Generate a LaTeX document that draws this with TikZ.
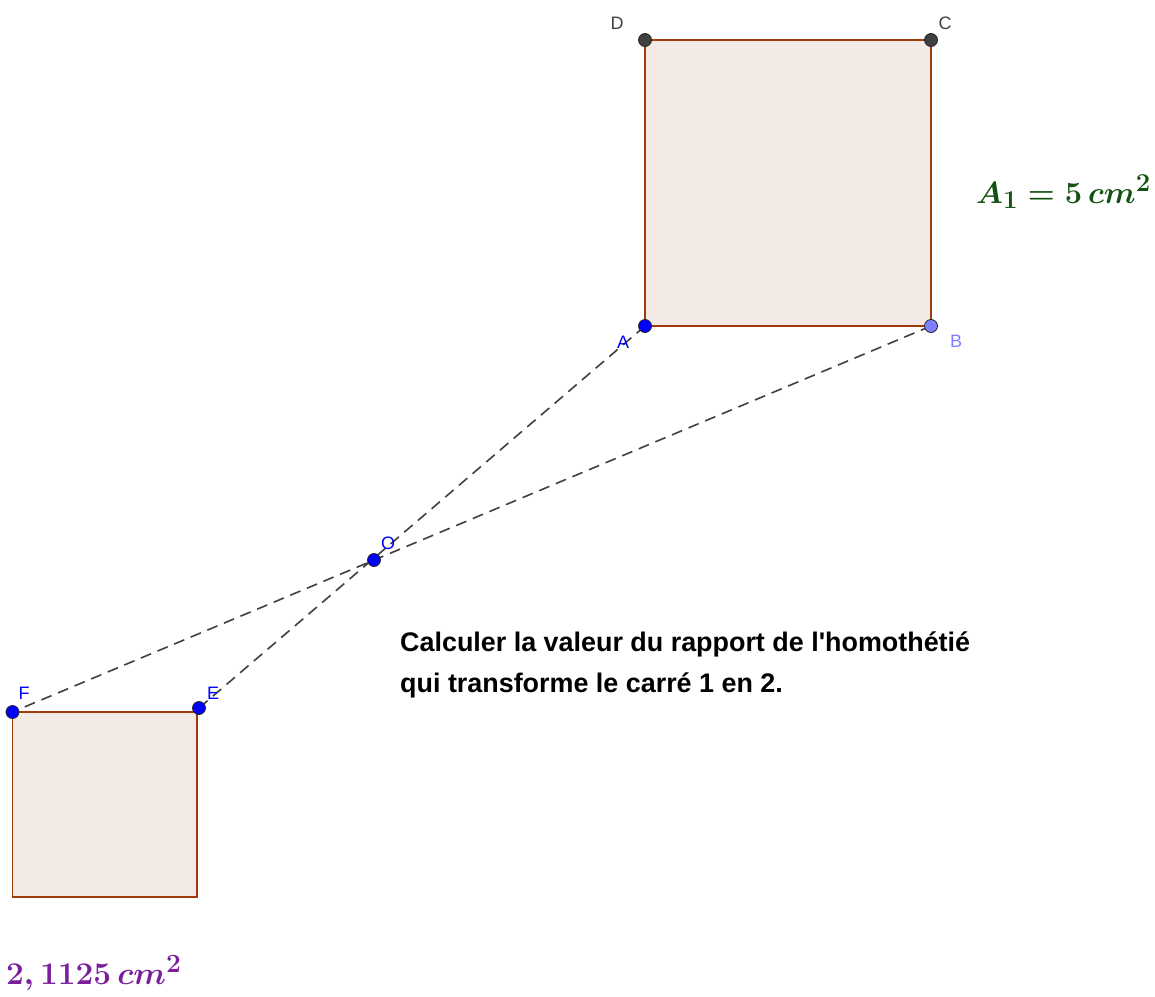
\documentclass[tikz,border=0pt]{standalone}
\usepackage{fontspec}
\newfontfamily\labfont{Liberation Sans}
\definecolor{polyline}{RGB}{160,60,10}
\definecolor{polyfill}{RGB}{244,234,229}
\definecolor{dashgray}{RGB}{64,64,64}
\definecolor{ptblue}{RGB}{0,0,255}
\definecolor{ptlight}{RGB}{127,127,255}
\definecolor{ptdark}{RGB}{64,64,64}
\definecolor{areagreen}{RGB}{18,82,18}
\definecolor{areapurple}{RGB}{122,30,158}
\begin{document}
\begin{tikzpicture}[x=1pt,y=-1pt,
  poly/.style={draw=polyline,fill=polyfill,line width=1.6pt,line join=miter},
  dashline/.style={draw=dashgray,line width=1.6pt,dash pattern=on 11pt off 7pt},
  dot/.style={circle,draw=black!85,line width=0.8pt,minimum size=13pt,inner sep=0pt},
  lab/.style={font=\labfont\fontsize{18}{21}\selectfont,inner sep=0pt},
  question/.style={font=\labfont\bfseries\fontsize{26.9}{32}\selectfont,anchor=base west,inner sep=0pt},
  area/.style={font=\fontsize{24.88}{30}\selectfont\boldmath,anchor=base west,inner sep=0pt}]
\useasboundingbox (0,0) rectangle (1155,996);
% coordinates
\coordinate (A) at (645,326);
\coordinate (B) at (931,326);
\coordinate (C) at (931,40);
\coordinate (D) at (645,40);
\coordinate (O) at (374,560);
\coordinate (E) at (199,708);
\coordinate (F) at (12.5,712);
\coordinate (S2) at (197,712);
\coordinate (S3) at (197,897);
\coordinate (S4) at (12.5,897);
% squares
\draw[poly] (A) -- (B) -- (C) -- (D) -- cycle;
\draw[poly] (F) -- (S2) -- (S3) -- (S4) -- cycle;
% dashed lines
\draw[dashline] (A) -- (E);
\draw[dashline] (B) -- (F);
% points
\node[dot,fill=ptdark] (Dp) at (D) {};
\node[dot,fill=ptdark] (Cp) at (C) {};
\node[dot,fill=ptblue] (Ap) at (A) {};
\node[dot,fill=ptlight] (Bp) at (B) {};
\node[dot,fill=ptblue] (Op) at (O) {};
\node[dot,fill=ptblue] (Ep) at (E) {};
\node[dot,fill=ptblue] (Fp) at (F) {};
% point labels
\node[lab,text=ptdark] (Dl) at (617,23) {D};
\node[lab,text=ptdark] (Cl) at (945,23) {C};
\node[lab,text=ptblue] (Al) at (623,342) {A};
\node[lab,text=ptlight] (Bl) at (956,341) {B};
\node[lab,text=ptblue] (Ol) at (388,543) {O};
\node[lab,text=ptblue] (Fl) at (24,693) {F};
\node[lab,text=ptblue] (El) at (213,693) {E};
% texts
\node[question] (q1) at (400,651) {Calculer la valeur du rapport de l'homothétié};
\node[question] (q2) at (400,692) {qui transforme le carré 1 en 2.};
\node[area,text=areagreen] (a1) at (976,203) {\scalebox{1.24}{$A_1 = 5\,cm^2$}};
\node[area,text=areapurple] (a2) at (6,984) {\scalebox{1.27}{$2,1125\,cm^2$}};
\end{tikzpicture}
\end{document}
